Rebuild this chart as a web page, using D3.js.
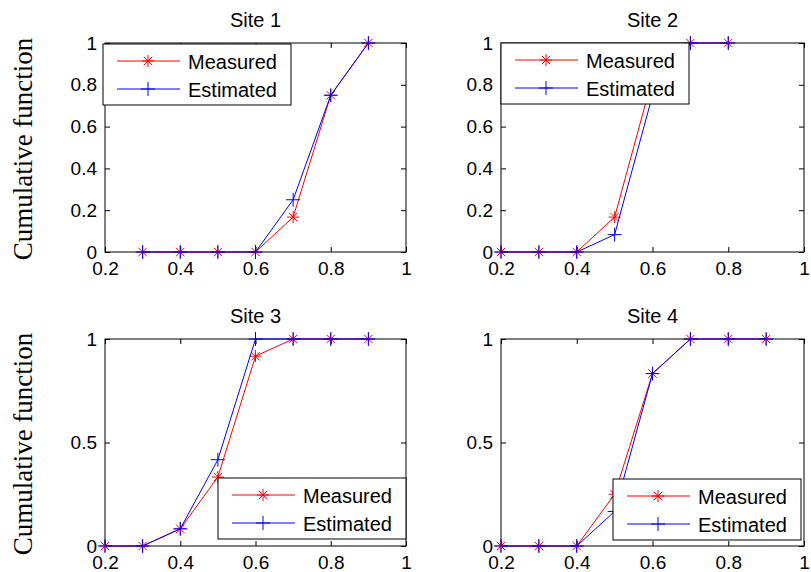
<!DOCTYPE html>
<html>
<head>
<meta charset="utf-8">
<script src="https://cdn.jsdelivr.net/npm/d3@7"></script>
<style>
  body { margin: 0; background: white; }
  svg { display: block; }
</style>
</head>
<body>
<div id="rendering"></div>
<script>
const siteNames = ["Site 1", "Site 2", "Site 3", "Site 4"];
const seriesNames = ["Measured", "Estimated"];

const x1 = [0.3, 0.4, 0.5, 0.6, 0.7, 0.8, 0.9];
const measured1 = [0, 0, 0, 0, 0.167, 0.75, 1];
const estimated1 = [0, 0, 0, 0, 0.25, 0.75, 1];

const x2 = [0.2, 0.3, 0.4, 0.5, 0.6, 0.7, 0.8];
const measured2 = [0, 0, 0, 0.167, 0.833, 1, 1];
const estimated2 = [0, 0, 0, 0.083, 0.75, 1, 1];

const x3 = [0.2, 0.3, 0.4, 0.5, 0.6, 0.7, 0.8, 0.9];
const measured3 = [0, 0, 0.083, 0.333, 0.917, 1, 1, 1];
const estimated3 = [0, 0, 0.083, 0.417, 1, 1, 1, 1];

const x4 = [0.2, 0.3, 0.4, 0.5, 0.6, 0.7, 0.8, 0.9];
const measured4 = [0, 0, 0, 0.25, 0.833, 1, 1, 1];
const estimated4 = [0, 0, 0, 0.167, 0.833, 1, 1, 1];

const xTicks = [0.2, 0.4, 0.6, 0.8, 1];
const yTicksTop = [0, 0.2, 0.4, 0.6, 0.8, 1];
const yTicksBottom = [0, 0.5, 1];

const width = 811;
const height = 572;

const panels = [
  { x: x1, m: measured1, e: estimated1, left: 105, right: 406, top: 43, bottom: 252, yTicks: yTicksTop, legend: [103, 44] },
  { x: x2, m: measured2, e: estimated2, left: 501, right: 804, top: 43, bottom: 252, yTicks: yTicksTop, legend: [501, 43] },
  { x: x3, m: measured3, e: estimated3, left: 105, right: 406, top: 339, bottom: 546, yTicks: yTicksBottom, legend: [218, 478] },
  { x: x4, m: measured4, e: estimated4, left: 501, right: 804, top: 339, bottom: 546, yTicks: yTicksBottom, legend: [613, 479] }
];

const svg = d3
  .select("#rendering")
  .append("svg")
  .attr("width", width)
  .attr("height", height)
  .style("background-color", "white");

const font = "Liberation Sans, Arial, sans-serif";

// asterisk and plus markers like matlab
const drawStar = (g, cx, cy, color) => {
  const r = 6;
  const p = g.append("g").attr("stroke", color).attr("stroke-width", 1);
  p.append("line").attr("x1", cx - r).attr("x2", cx + r).attr("y1", cy).attr("y2", cy);
  p.append("line").attr("x1", cx).attr("x2", cx).attr("y1", cy - r).attr("y2", cy + r);
  const d = r * 0.7;
  p.append("line").attr("x1", cx - d).attr("x2", cx + d).attr("y1", cy - d).attr("y2", cy + d);
  p.append("line").attr("x1", cx - d).attr("x2", cx + d).attr("y1", cy + d).attr("y2", cy - d);
};

const drawPlus = (g, cx, cy, color) => {
  const r = 7;
  const p = g.append("g").attr("stroke", color).attr("stroke-width", 1);
  p.append("line").attr("x1", cx - r).attr("x2", cx + r).attr("y1", cy).attr("y2", cy);
  p.append("line").attr("x1", cx).attr("x2", cx).attr("y1", cy - r).attr("y2", cy + r);
};

panels.forEach((pn, i) => {
  const scaleX = d3.scaleLinear().domain([0.2, 1]).range([pn.left, pn.right]);
  const scaleY = d3.scaleLinear().domain([0, 1]).range([pn.bottom, pn.top]);
  const g = svg.append("g");
  const w = pn.right - pn.left;
  const h = pn.bottom - pn.top;

  // ticks point inward on all four sides
  g.append("g")
    .attr("transform", `translate(0, ${pn.bottom})`)
    .call(d3.axisBottom(scaleX).tickValues(xTicks).tickSize(-5).tickPadding(10).tickFormat((d) => d3.format("")(d)));
  g.append("g")
    .attr("transform", `translate(${pn.left}, 0)`)
    .call(d3.axisLeft(scaleY).tickValues(pn.yTicks).tickSize(-5).tickPadding(8).tickFormat((d) => d3.format("")(d)));
  g.append("g")
    .attr("transform", `translate(0, ${pn.top})`)
    .call(d3.axisTop(scaleX).tickValues(xTicks).tickSize(-5).tickFormat(""));
  g.append("g")
    .attr("transform", `translate(${pn.right}, 0)`)
    .call(d3.axisRight(scaleY).tickValues(pn.yTicks).tickSize(-5).tickFormat(""));

  g.selectAll(".domain").remove();
  g.selectAll(".tick line").attr("stroke", "#000");
  g.selectAll("text").attr("font-family", font).attr("font-size", 19).attr("fill", "#000");

  g.append("rect")
    .attr("x", pn.left)
    .attr("y", pn.top)
    .attr("width", w)
    .attr("height", h)
    .attr("fill", "none")
    .attr("stroke", "#000")
    .attr("stroke-width", 1);

  g.append("text")
    .attr("x", (pn.left + pn.right) / 2)
    .attr("y", pn.top - 16)
    .attr("text-anchor", "middle")
    .attr("font-family", font)
    .attr("font-size", 20)
    .text(siteNames[i]);

  const line = d3.line().x((d) => scaleX(d[0])).y((d) => scaleY(d[1]));
  const mPts = pn.x.map((v, k) => [v, pn.m[k]]);
  const ePts = pn.x.map((v, k) => [v, pn.e[k]]);

  g.append("path").attr("d", line(mPts)).attr("fill", "none").attr("stroke", "red").attr("stroke-width", 1);
  mPts.forEach((d) => drawStar(g, scaleX(d[0]), scaleY(d[1]), "red"));
  g.append("path").attr("d", line(ePts)).attr("fill", "none").attr("stroke", "blue").attr("stroke-width", 1);
  ePts.forEach((d) => drawPlus(g, scaleX(d[0]), scaleY(d[1]), "blue"));

  // legend
  const lg = g.append("g").attr("transform", `translate(${pn.legend[0]}, ${pn.legend[1]})`);
  lg.append("rect")
    .attr("width", 188)
    .attr("height", 61)
    .attr("fill", "white")
    .attr("stroke", "#000")
    .attr("stroke-width", 1);
  seriesNames.forEach((name, k) => {
    const yy = 17 + k * 28;
    const color = k === 0 ? "red" : "blue";
    lg.append("line").attr("x1", 14).attr("x2", 77).attr("y1", yy).attr("y2", yy).attr("stroke", color);
    if (k === 0) drawStar(lg, 45, yy, color);
    else drawPlus(lg, 45, yy, color);
    lg.append("text")
      .attr("x", 85)
      .attr("y", yy + 8)
      .attr("font-family", font)
      .attr("font-size", 20)
      .text(name);
  });
});

[149, 444].forEach((cy) => {
  svg
    .append("text")
    .attr("transform", `translate(32, ${cy}) rotate(-90)`)
    .attr("text-anchor", "middle")
    .attr("font-family", "Liberation Serif, Times New Roman, serif")
    .attr("font-size", 27)
    .text("Cumulative function");
});
</script>
</body>
</html>
